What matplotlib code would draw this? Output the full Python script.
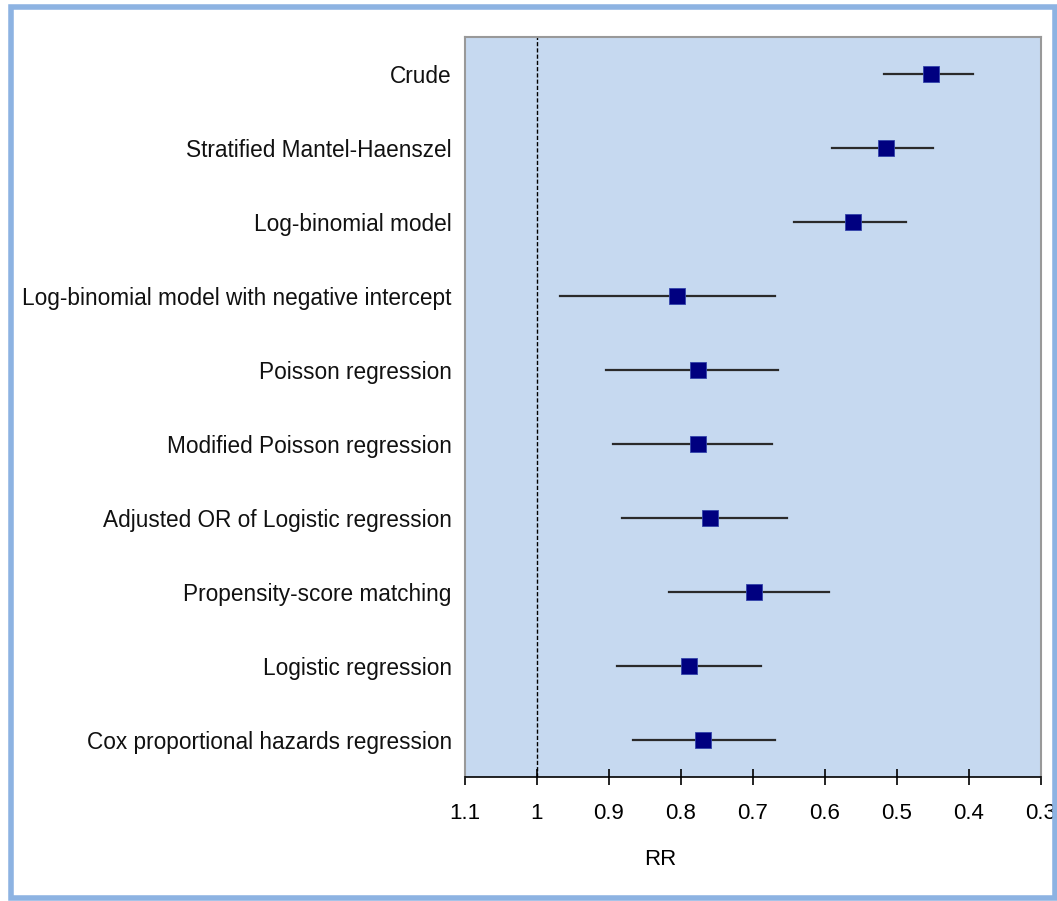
import matplotlib

matplotlib.use("Agg")
import matplotlib.pyplot as plt
from matplotlib.patches import Rectangle

# forest plot data (RR and 95% CI)
methods = [
    "Crude",
    "Stratified Mantel-Haenszel",
    "Log-binomial model",
    "Log-binomial model with negative intercept",
    "Poisson regression",
    "Modified Poisson regression",
    "Adjusted OR of Logistic regression",
    "Propensity-score matching",
    "Logistic regression",
    "Cox proportional hazards regression",
]
rr = [0.453, 0.515, 0.561, 0.805, 0.777, 0.777, 0.760, 0.698, 0.789, 0.769]
ci_low = [0.395, 0.450, 0.488, 0.670, 0.665, 0.673, 0.653, 0.594, 0.689, 0.670]
ci_high = [0.518, 0.590, 0.643, 0.968, 0.904, 0.894, 0.882, 0.817, 0.889, 0.866]
xticks = [1.1, 1.0, 0.9, 0.8, 0.7, 0.6, 0.5, 0.4, 0.3]
xtick_labels = ["1.1", "1", "0.9", "0.8", "0.7", "0.6", "0.5", "0.4", "0.3"]

plt.rcParams["font.family"] = ["Liberation Sans", "DejaVu Sans"]

fig = plt.figure(figsize=(10.57, 9.01), dpi=100)
ax = fig.add_axes([465 / 1057, 1 - 777 / 901, 576 / 1057, 740 / 901])
ax.set_facecolor("#c6d9f0")

# light blue frame round the whole picture
fig.patches.append(
    Rectangle((10.5 / 1057, 3.5 / 901), 1044 / 1057, 891 / 901,
              transform=fig.transFigure, fill=False,
              edgecolor="#8db3e2", linewidth=4)
)

ypos = list(range(len(methods)))
for y, lo, hi in zip(ypos, ci_low, ci_high):
    ax.plot([lo, hi], [y, y], color="#2a2a2a", lw=1.6, zorder=2)
ax.plot(rr, ypos, linestyle="none", marker="s", markersize=11,
        markerfacecolor="#000080", markeredgecolor="#3344aa",
        markeredgewidth=0.6, zorder=3)

ax.axvline(1.0, color="black", lw=1.0, linestyle=(0, (3, 1.5)), zorder=1)

ax.set_xlim(1.1, 0.3)
ax.set_ylim(len(methods) - 0.5, -0.5)
ax.set_xticks(xticks)
ax.set_xticklabels(xtick_labels, fontsize=16)
ax.set_yticks(ypos)
ax.set_yticklabels(methods, fontsize=16.3, color="#111111")
ax.tick_params(axis="y", length=0, pad=9.5)
ax.tick_params(axis="x", direction="inout", length=11, width=1.2, pad=13)
ax.set_xlabel("RR", fontsize=16)
ax.xaxis.set_label_coords(0.339, -0.097)

for side in ["top", "right", "left"]:
    ax.spines[side].set_color("#999999")
    ax.spines[side].set_linewidth(1.5)
ax.spines["bottom"].set_color("black")
ax.spines["bottom"].set_linewidth(1.2)

plt.savefig("out.png", dpi=100)
plt.close()
